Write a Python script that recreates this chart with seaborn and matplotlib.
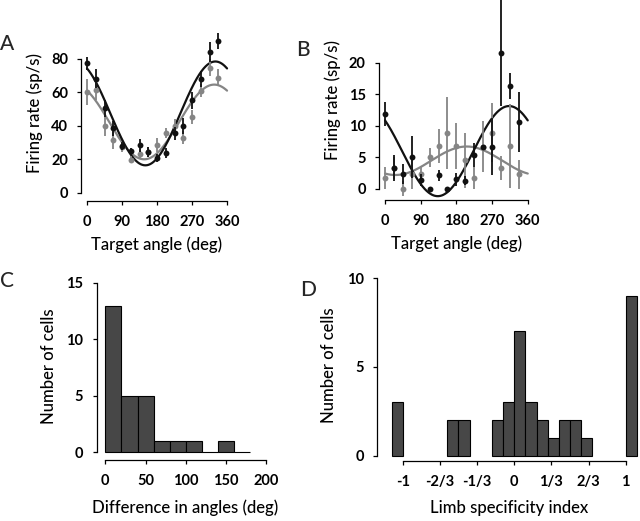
import numpy as np
import matplotlib
matplotlib.use("Agg")
import matplotlib.pyplot as plt
import seaborn as sns

# ---------------- data ----------------
angles = [0, 22.5, 45, 67.5, 90, 112.5, 135, 157.5, 180, 202.5, 225, 247.5, 270, 292.5, 315, 337.5]

# Panel A
A_black = [77.4, 68.3, 50.5, 38.6, 27.9, 25.0, 28.5, 24.7, 20.7, 24.0, 35.6, 40.0, 55.3, 68.0, 84.0, 90.7]
A_black_err = [3.8, 5.5, 5.0, 4.5, 2.5, 2.0, 4.0, 3.0, 2.5, 3.0, 4.0, 4.5, 5.0, 5.0, 6.0, 5.0]
A_gray = [60.3, 61.5, 40.0, 31.4, 27.7, 19.9, 23.3, 24.3, 28.7, 35.6, 40.0, 33.0, 45.4, 61.0, 74.8, 68.9]
A_gray_err = [7.5, 6.0, 6.0, 5.0, 3.0, 2.0, 3.0, 3.0, 4.0, 3.0, 4.0, 4.0, 4.0, 4.0, 5.0, 5.0]
# cosine fits: baseline, amplitude, preferred angle
A_fit_black = [47.5, 31.0, 330.0]
A_fit_gray = [42.4, 22.3, 327.0]

# Panel B
B_black = [11.85, 3.3, 2.3, 5.0, 1.4, 0.0, 2.1, 0.0, 1.5, 1.3, 5.3, 6.7, 6.7, 21.6, 16.3, 10.6]
B_black_err = [1.9, 2.0, 1.6, 3.3, 1.0, 0.0, 0.9, 0.0, 1.0, 0.7, 1.9, 0.0, 4.5, 8.4, 2.0, 4.7]
B_gray = [1.7, 3.3, 0.0, 2.3, 2.3, 5.0, 6.8, 8.9, 6.8, 4.5, 1.7, 6.7, 8.9, 3.3, 6.8, 2.3]
B_gray_err = [1.7, 1.8, 1.2, 2.3, 1.3, 1.5, 2.7, 5.7, 3.6, 4.4, 1.7, 4.0, 4.7, 1.9, 6.7, 2.3]
B_fit_black = [5.97, 7.15, 313.0]
B_fit_gray = [4.44, 2.26, 206.0]

# Panel C histogram (bin edges and counts)
C_edges = [0, 20, 40, 60, 80, 100, 120, 140, 160, 180]
C_counts = [13, 5, 5, 1, 1, 1, 0, 1, 0]

# Panel D histogram
D_edges = [-1.1, -1.0, -0.9, -0.8, -0.7, -0.6, -0.5, -0.4, -0.3, -0.2, -0.1, 0.0,
           0.1, 0.2, 0.3, 0.4, 0.5, 0.6, 0.7, 0.8, 0.9, 1.0, 1.1]
D_counts = [3, 0, 0, 0, 0, 2, 2, 0, 0, 2, 3, 7, 3, 2, 1, 2, 2, 1, 0, 0, 0, 9]
D_ticks = [-1, -2/3, -1/3, 0, 1/3, 2/3, 1]
D_ticklabels = ["-1", "-2/3", "-1/3", "0", "1/3", "2/3", "1"]

# ---------------- style ----------------
sns.set_style("ticks")
plt.rcParams["font.family"] = ["Lato", "DejaVu Sans"]
plt.rcParams["axes.linewidth"] = 0.9
plt.rcParams["xtick.major.width"] = 0.9
plt.rcParams["ytick.major.width"] = 0.9
plt.rcParams["xtick.major.size"] = 3.2
plt.rcParams["ytick.major.size"] = 3.2
plt.rcParams["xtick.color"] = "black"
plt.rcParams["ytick.color"] = "black"
plt.rcParams["axes.edgecolor"] = "black"

TICK_FS = 10.5
LAB_FS = 12
BLACK = "#111111"
GRAY = "#858585"
BAR = "#474747"

fig = plt.figure(figsize=(6.4, 5.21), dpi=100)


def style_axis(ax, xb, yb, xticks, yticks, xlabels=None):
    for s in ["top", "right"]:
        ax.spines[s].set_visible(False)
    ax.spines["left"].set_bounds(*yb)
    ax.spines["bottom"].set_bounds(*xb)
    ax.set_xticks(xticks)
    if xlabels is not None:
        ax.set_xticklabels(xlabels)
    ax.set_yticks(yticks)
    ax.tick_params(axis="x", labelsize=TICK_FS, pad=7)
    ax.tick_params(axis="y", labelsize=TICK_FS, pad=6.5)
    for t in ax.get_xticklabels() + ax.get_yticklabels():
        t.set_fontweight("bold")


def tuning_panel(ax, black, black_err, gray, gray_err, fit_b, fit_g):
    th = np.linspace(0, 360, 361)
    for fit, col, z in [(fit_g, GRAY, 2), (fit_b, BLACK, 3)]:
        yfit = fit[0] + fit[1] * np.cos(np.deg2rad(th - fit[2]))
        sns.lineplot(x=th, y=yfit, ax=ax, color=col, lw=1.6, zorder=z)
    ax.errorbar(angles, gray, yerr=gray_err, fmt="none", ecolor=GRAY, elinewidth=1.3,
                capsize=0, zorder=4, clip_on=False)
    sns.scatterplot(x=angles, y=gray, ax=ax, color=GRAY, s=18, linewidth=0, zorder=5, clip_on=False)
    ax.errorbar(angles, black, yerr=black_err, fmt="none", ecolor=BLACK, elinewidth=1.3,
                capsize=0, zorder=6, clip_on=False)
    sns.scatterplot(x=angles, y=black, ax=ax, color=BLACK, s=18, linewidth=0, zorder=7, clip_on=False)


# Panel A
axA = fig.add_axes([0.1272, 0.6142, 0.2363, 0.3369])
tuning_panel(axA, A_black, A_black_err, A_gray, A_gray_err, A_fit_black, A_fit_gray)
axA.set_xlim(-14.4, 374.4)
axA.set_ylim(-4.8, 100)
style_axis(axA, (0, 360), (0, 80), [0, 90, 180, 270, 360], [0, 20, 40, 60, 80])
axA.set_xlabel("Target angle (deg)", fontsize=LAB_FS, labelpad=5, fontweight="medium")
axA.set_ylabel("Firing rate (sp/s)", fontsize=LAB_FS, labelpad=6, fontweight="medium")

# Panel B
axB = fig.add_axes([0.5927, 0.6155, 0.2408, 0.3845])
tuning_panel(axB, B_black, B_black_err, B_gray, B_gray_err, B_fit_black, B_fit_gray)
axB.set_xlim(-14.4, 374.4)
axB.set_ylim(-1.84, 29.95)
style_axis(axB, (0, 360), (0, 20), [0, 90, 180, 270, 360], [0, 5, 10, 15, 20])
axB.set_xlabel("Target angle (deg)", fontsize=LAB_FS, labelpad=5, fontweight="medium")
axB.set_ylabel("Firing rate (sp/s)", fontsize=LAB_FS, labelpad=6, fontweight="medium")

# Panel C
axC = fig.add_axes([0.1511, 0.1171, 0.2777, 0.3614])
C_centers = [(C_edges[i] + C_edges[i + 1]) / 2 for i in range(len(C_counts))]
sns.histplot(x=C_centers, weights=C_counts, bins=C_edges, ax=axC, color=BAR, alpha=1,
             edgecolor="black", linewidth=0.8)
axC.set_xlim(-10.7, 210)
axC.set_ylim(-0.68, 16)
style_axis(axC, (0, 200), (0, 15), [0, 50, 100, 150, 200], [0, 5, 10, 15])
axC.set_xlabel("Difference in angles (deg)", fontsize=LAB_FS, labelpad=8, fontweight="medium")
axC.set_ylabel("Number of cells", fontsize=LAB_FS, labelpad=7, fontweight="medium")

# Panel D
axD = fig.add_axes([0.5895, 0.1152, 0.4105, 0.3678])
D_centers = [(D_edges[i] + D_edges[i + 1]) / 2 for i in range(len(D_counts))]
sns.histplot(x=D_centers, weights=D_counts, bins=D_edges, ax=axD, color=BAR, alpha=1,
             edgecolor="black", linewidth=0.8)
for p in axD.patches:
    if p.get_height() == 0:
        p.set_visible(False)
axD.set_xlim(-1.228, 1.128)
axD.set_ylim(-0.3, 10.5)
style_axis(axD, (-1, 1), (0, 10), D_ticks, [0, 5, 10], D_ticklabels)
axD.set_xlabel("Limb specificity index", fontsize=LAB_FS, labelpad=8, fontweight="medium")
axD.set_ylabel("Number of cells", fontsize=LAB_FS, labelpad=7, fontweight="medium")

for ax in [axA, axB, axC, axD]:
    ax.xaxis.label.set_color("black")
    ax.yaxis.label.set_color("black")

# panel letters
for lab, x, y in [("A", 7, 43.5), ("B", 303, 50), ("C", 7, 281), ("D", 308, 290)]:
    fig.text(x / 640, 1 - y / 521, lab, fontsize=15, ha="center", va="center", fontweight="medium")

fig.savefig("out.png", dpi=100)
